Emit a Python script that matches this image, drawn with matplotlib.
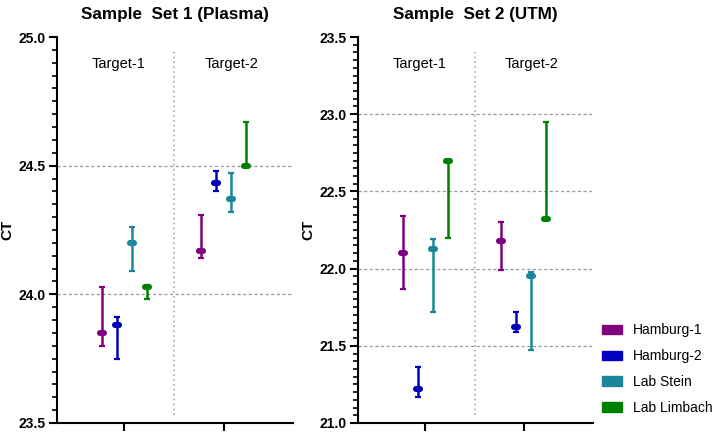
import numpy as np
import matplotlib
matplotlib.use("Agg")
import matplotlib.pyplot as plt
from matplotlib.markers import MarkerStyle
from matplotlib.patches import Patch

plt.rcParams['font.family'] = ['Liberation Sans', 'DejaVu Sans']

targets = ["Target-1", "Target-2"]
labs = ["Hamburg-1", "Hamburg-2", "Lab Stein", "Lab Limbach"]
colors = ["#800080", "#0000BE", "#1B859B", "#008000"]

# set 1 (plasma): rows = labs, cols = targets
plasma_ct = [[23.85, 24.17], [23.88, 24.434], [24.20, 24.37], [24.03, 24.50]]
plasma_lo = [[23.80, 24.14], [23.75, 24.40], [24.09, 24.32], [23.98, 24.50]]
plasma_hi = [[24.03, 24.31], [23.91, 24.48], [24.26, 24.47], [24.035, 24.67]]

# set 2 (UTM)
utm_ct = [[22.10, 22.18], [21.22, 21.62], [22.13, 21.95], [22.70, 22.32]]
utm_lo = [[21.87, 21.99], [21.17, 21.59], [21.72, 21.47], [22.20, 22.32]]
utm_hi = [[22.34, 22.30], [21.36, 21.72], [22.19, 21.98], [22.70, 22.95]]


def panel(ax, title, ct, lo, hi, ylim, grid_vals):
    x = np.arange(len(targets))
    offs = (np.arange(len(labs)) - 1.5) * 0.152
    for i in range(len(labs)):
        c = np.array(ct[i])
        yerr = [c - np.array(lo[i]), np.array(hi[i]) - c]
        ax.errorbar(x + offs[i], c, yerr=yerr, fmt='none', ecolor=colors[i],
                    elinewidth=1.8, capsize=2, capthick=1.6, zorder=3)
        ax.plot(x + offs[i], c, ls='none', color=colors[i],
                marker=MarkerStyle('_', capstyle='round'), markersize=3.5, mew=4.4, zorder=4)

    for g in grid_vals:
        ax.axhline(g, color='#9a9a9a', lw=0.9, ls=(0, (2.5, 2)), zorder=1)
    ax.axvline(0.5, ymin=0.02, ymax=0.96, color='#9a9a9a', lw=1.1, ls=(0, (1, 2.2)), zorder=1)

    ax.text(0.26, 0.93, targets[0], transform=ax.transAxes, ha='center', va='center', fontsize=10.5)
    ax.text(0.74, 0.93, targets[1], transform=ax.transAxes, ha='center', va='center', fontsize=10.5)

    ax.set_xlim(-0.68, 1.70)
    ax.set_ylim(*ylim)
    ax.set_xticks(x)
    ax.set_xticklabels([])
    ax.set_yticks(np.arange(ylim[0], ylim[1] + 0.01, 0.5))
    ax.set_yticks(np.arange(ylim[0], ylim[1] + 0.01, 0.05), minor=True)
    ax.yaxis.set_major_formatter(plt.FormatStrFormatter('%.1f'))
    for lab in ax.get_yticklabels():
        lab.set_fontweight('bold')
    ax.tick_params(axis='y', which='major', length=6, width=1.5, labelsize=10, pad=2)
    ax.tick_params(axis='y', which='minor', length=3.5, width=1.2)
    ax.tick_params(axis='x', which='major', length=6, width=1.5)
    ax.spines['top'].set_visible(False)
    ax.spines['right'].set_visible(False)
    ax.spines['left'].set_linewidth(1.5)
    ax.spines['bottom'].set_linewidth(1.5)
    ax.set_ylabel("CT", fontweight='bold', fontsize=11, labelpad=3)
    ax.set_title(title, fontweight='bold', fontsize=12.3, pad=13)


fig = plt.figure(figsize=(7.16, 4.33), dpi=100)
ax1 = fig.add_axes([0.0796, 0.0231, 0.3296, 0.8914])
ax2 = fig.add_axes([0.5, 0.0231, 0.3282, 0.8914])

panel(ax1, "Sample  Set 1 (Plasma)", plasma_ct, plasma_lo, plasma_hi, (23.5, 25.0), [24.0, 24.5])
panel(ax2, "Sample  Set 2 (UTM)", utm_ct, utm_lo, utm_hi, (21.0, 23.5), [21.5, 22.0, 22.5, 23.0])

handles = [Patch(facecolor=c, edgecolor=c) for c in colors]
fig.legend(handles, labs, loc='upper left', bbox_to_anchor=(0.841, 0.253), frameon=False,
           fontsize=10, borderpad=0, borderaxespad=0, handlelength=1.4, handleheight=0.7,
           handletextpad=0.8, labelspacing=0.85)

fig.savefig("out.png", dpi=100)
